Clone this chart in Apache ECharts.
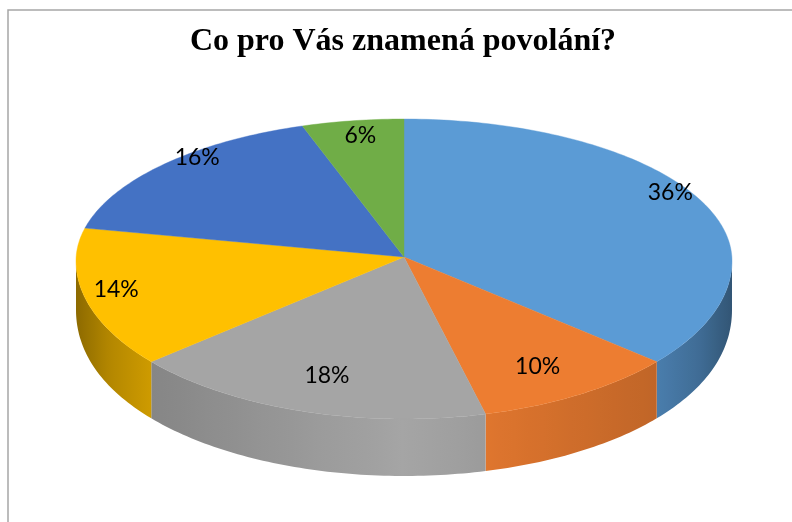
<!DOCTYPE html>
<html>
<head>
<meta charset="utf-8">
<style>html,body{margin:0;padding:0;background:#fff}#c{width:792px;height:522px}</style>
<script src="https://cdn.jsdelivr.net/npm/echarts@6/dist/echarts.min.js"></script>
</head>
<body>
<div id="c"></div>
<script>
var titleText = 'Co pro Vás znamená povolání?';
var categories = ['A', 'B', 'C', 'D', 'E', 'F'];
var values = [36, 10, 18, 14, 16, 6];
var colors = ['#5b9bd5', '#ed7d31', '#a5a5a5', '#ffc000', '#4472c4', '#70ad47'];

// Layout of the tilted pie
var apex = [404, 257], ellipseY = 261, rx = 328, ryBack = 142, ryFront = 158;
// Per-slice label placement: shift of the mid angle (deg) and fraction of the way to the rim
var labelShift = [-2, 0.9, 0, 3, 5.6, -0.3];
var labelReach = [0.947, 0.78, 0.76, 0.895, 0.97, 0.9];

var total = values.reduce(function (a, b) { return a + b; }, 0);
var rad = Math.PI / 180;

function warp(deg) { // slight perspective compression of the rear half
  var c = Math.cos(deg * rad);
  if (c <= 0) return deg;
  var s = Math.sin(2 * deg * rad);
  return deg - (s < 0 ? -1 : 1) * 4.3 * Math.sqrt(Math.abs(s));
}
function rim(phi) {
  var c = Math.cos(phi * rad);
  return [apex[0] + rx * Math.sin(phi * rad), ellipseY - (c > 0 ? ryBack : ryFront) * c];
}
function wallDepth(phi) { // the wall is foreshortened towards the sides
  var c = Math.min(1, Math.abs(Math.cos(phi * rad)));
  return 49 + 8 * (1 - Math.pow(1 - c, 3));
}
function shade(x) {
  var t = Math.min(1, Math.abs(x - apex[0]) / rx);
  var s = [[0, 1], [0.25, 0.94], [0.77, 0.81], [0.9, 0.7], [1, 0.55]];
  for (var i = 1; i < s.length; i++) {
    if (t <= s[i][0]) {
      var k = (t - s[i - 1][0]) / (s[i][0] - s[i - 1][0]);
      return s[i - 1][1] + k * (s[i][1] - s[i - 1][1]);
    }
  }
  return 0.55;
}
function tint(hex, f) {
  var n = parseInt(hex.slice(1), 16);
  return 'rgb(' + [(n >> 16) & 255, (n >> 8) & 255, n & 255].map(function (v) { return Math.round(v * f); }).join(',') + ')';
}
function arc(a, b) {
  var pts = [], n = Math.max(2, Math.ceil(Math.abs(b - a) / 1));
  for (var i = 0; i <= n; i++) pts.push(rim(a + (b - a) * i / n));
  return pts;
}

function renderSlice(params, api) {
  var i = params.dataIndex, v = api.value(0), before = 0;
  for (var j = 0; j < i; j++) before += values[j];
  var t0 = before / total * 360, t1 = (before + v) / total * 360;
  var a = warp(t0), b = warp(t1);
  var children = [];
  var color = colors[i];

  var s0 = Math.max(a, 90), s1 = Math.min(b, 270);
  if (s1 > s0) {
    var front = arc(s0, s1), back = [], n = front.length - 1;
    for (var m = n; m >= 0; m--) {
      var ph = s0 + (s1 - s0) * m / n;
      back.push([front[m][0], front[m][1] + wallDepth(ph)]);
    }
    var xs = front.map(function (p) { return p[0]; });
    var x0 = Math.min.apply(null, xs), x1 = Math.max.apply(null, xs), stops = [];
    for (var q = 0; q <= 12; q++) {
      stops.push({ offset: q / 12, color: tint(color, shade(x0 + (x1 - x0) * q / 12)) });
    }
    children.push({
      type: 'polygon', shape: { points: front.concat(back) },
      style: { fill: { type: 'linear', x: x0, y: 0, x2: x1, y2: 0, global: true, colorStops: stops } }
    });
  }

  children.push({
    type: 'polygon', shape: { points: [apex].concat(arc(a, b)) },
    style: { fill: color, stroke: color, lineWidth: 0.4 }
  });

  var mid = warp((t0 + t1) / 2) + labelShift[i], P = rim(mid), f = labelReach[i];
  children.push({
    type: 'text', z2: 10,
    style: {
      text: v + '%', x: apex[0] + (P[0] - apex[0]) * f, y: apex[1] + (P[1] - apex[1]) * f + 1,
      textAlign: 'center', textVerticalAlign: 'middle',
      fontFamily: 'Lato', fontSize: 23, fill: '#000'
    }
  });
  return { type: 'group', children: children };
}

var chart = echarts.init(document.getElementById('c'), null, { renderer: 'canvas' });
chart.setOption({
  animation: false,
  backgroundColor: '#fff',
  title: {
    text: titleText, left: 398, top: 21, textAlign: 'center',
    textStyle: { fontFamily: 'Liberation Serif', fontWeight: 'bold', fontSize: 32, color: '#000' }
  },
  graphic: [
    { type: 'polyline', shape: { points: [[8, 522], [8, 10], [792, 10]] }, style: { fill: 'none', stroke: '#a6a6a6', lineWidth: 1.5 }, silent: true }
  ],
  series: [{
    type: 'custom', coordinateSystem: 'none', renderItem: renderSlice, silent: true,
    data: values.map(function (v, i) { return { name: categories[i], value: [v] }; })
  }]
});
</script>
</body>
</html>
